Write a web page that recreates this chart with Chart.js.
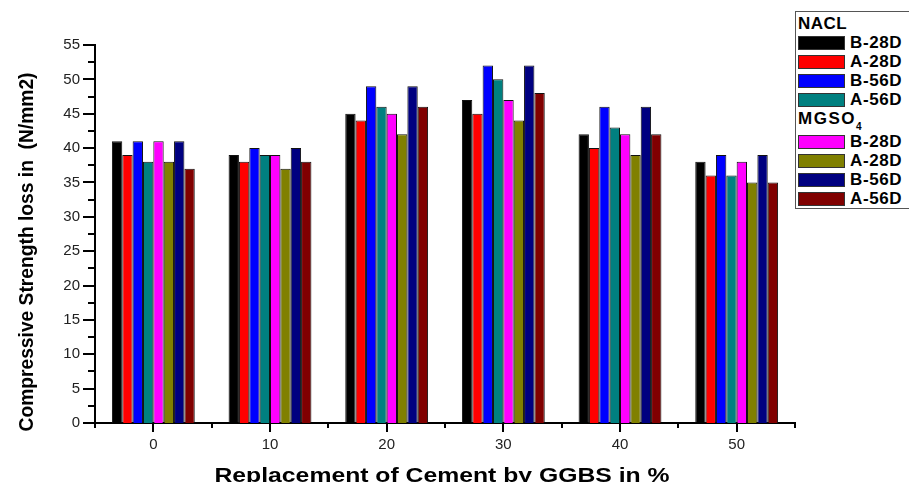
<!DOCTYPE html>
<html>
<head>
<meta charset="utf-8">
<script src="https://cdn.jsdelivr.net/npm/chart.js@4"></script>
<style>
  body { margin: 0; width: 909px; height: 482px; overflow: hidden; background: #fff; position: relative; }
  #chart { position: absolute; left: 0; top: 0; }
  #legend {
    position: absolute; left: 795px; top: 11px; width: 130px; height: 194px;
    border: 1px solid #555; background: #fff; padding-top: 2px;
    font-family: "Liberation Sans", Arial, sans-serif; font-weight: bold; font-size: 17px; color: #000;
  }
  #legend .hdr { height: 19px; line-height: 19px; padding-left: 2px; letter-spacing: 0.5px; }
  #legend .hdr.sub { height: 23px; letter-spacing: 1.5px; }
  #legend .hdr sub { font-size: 10px; vertical-align: -6px; letter-spacing: 0; }
  #legend .row { height: 19px; display: flex; align-items: center; }
  #legend .sw { width: 45px; height: 12px; border: 1px solid #333; margin-left: 2px; margin-right: 5px; }
  #legend .lbl { letter-spacing: 0.6px; }
</style>
</head>
<body>
<canvas id="chart" width="909" height="482"></canvas>
<div id="legend"></div>
<script>
const categories = ["0", "10", "20", "30", "40", "50"];

// NACL
const naclB28 = [41, 39, 45, 47, 42, 38];
const naclA28 = [39, 38, 44, 45, 40, 36];
const naclB56 = [41, 40, 49, 52, 46, 39];
const naclA56 = [38, 39, 46, 50, 43, 36];
// MGSO4
const mgB28 = [41, 39, 45, 47, 42, 38];
const mgA28 = [38, 37, 42, 44, 39, 35];
const mgB56 = [41, 40, 49, 52, 46, 39];
const mgA56 = [37, 38, 46, 48, 42, 35];

const yTicks = [0, 5, 10, 15, 20, 25, 30, 35, 40, 45, 50, 55];

const seriesNames = ["B-28D", "A-28D", "B-56D", "A-56D"];
const naclColors = ["#000000", "#ff0000", "#0000ff", "#008080"];
const mgColors = ["#ff00ff", "#808000", "#000080", "#800000"];

const naclData = [naclB28, naclA28, naclB56, naclA56];
const mgData = [mgB28, mgA28, mgB56, mgA56];

let datasets = [];
for (let i = 0; i < 4; i++) {
  datasets.push({ label: "NACL " + seriesNames[i], data: naclData[i], backgroundColor: naclColors[i] });
}
for (let i = 0; i < 4; i++) {
  datasets.push({ label: "MGSO4 " + seriesNames[i], data: mgData[i], backgroundColor: mgColors[i] });
}
datasets.forEach(function (d) {
  d.borderColor = "#111";
  d.borderWidth = 1;
  d.barPercentage = 1;
  d.categoryPercentage = 0.71;
});

// legend box (html)
let html = '<div class="hdr">NACL</div>';
for (let i = 0; i < 4; i++) {
  html += '<div class="row"><div class="sw" style="background:' + naclColors[i] + '"></div><span class="lbl">' + seriesNames[i] + "</span></div>";
}
html += '<div class="hdr sub">MGSO<sub>4</sub></div>';
for (let i = 0; i < 4; i++) {
  html += '<div class="row"><div class="sw" style="background:' + mgColors[i] + '"></div><span class="lbl">' + seriesNames[i] + "</span></div>";
}
document.getElementById("legend").innerHTML = html;

// tick marks + axis titles
const extras = {
  id: "extras",
  afterDraw(chart) {
    const ctx = chart.ctx;
    const x = chart.scales.x;
    const y = chart.scales.y;
    const area = chart.chartArea;
    ctx.save();
    ctx.strokeStyle = "#000";
    ctx.lineWidth = 2;
    ctx.beginPath();
    for (let v = 0; v <= 55; v += 2.5) {
      const py = Math.round(y.getPixelForValue(v));
      const len = v % 5 === 0 ? 12 : 7;
      ctx.moveTo(area.left, py);
      ctx.lineTo(area.left - len, py);
    }
    for (let i = 0; i < categories.length; i++) {
      const px = Math.round(x.getPixelForValue(i));
      ctx.moveTo(px, area.bottom);
      ctx.lineTo(px, area.bottom + 9);
    }
    for (let i = 0; i <= categories.length; i++) {
      const px = Math.round(x.getPixelForValue(i - 0.5));
      ctx.moveTo(px, area.bottom);
      ctx.lineTo(px, area.bottom + 5);
    }
    ctx.stroke();

    ctx.fillStyle = "#000";
    // x title
    ctx.font = "bold 20px 'Liberation Sans', Arial, sans-serif";
    let t = "Replacement of Cement by GGBS in %";
    let w = ctx.measureText(t).width;
    ctx.save();
    ctx.translate(442, 482);
    ctx.scale(455 / w, 1);
    ctx.textAlign = "center";
    ctx.textBaseline = "alphabetic";
    ctx.fillText(t, 0, 0);
    ctx.restore();

    // y title
    ctx.font = "bold 20px 'Liberation Sans', Arial, sans-serif";
    t = "Compressive Strength loss in  (N/mm2)";
    w = ctx.measureText(t).width;
    ctx.save();
    ctx.translate(27, 252);
    ctx.rotate(-Math.PI / 2);
    ctx.scale(359 / w, 1);
    ctx.textAlign = "center";
    ctx.textBaseline = "middle";
    ctx.fillText(t, 0, 0);
    ctx.restore();
    ctx.restore();
  },
};

const ctx = document.getElementById("chart");
const chart = new Chart(ctx, {
  type: "bar",
  data: { labels: categories, datasets: datasets },
  plugins: [extras],
  options: {
    responsive: false,
    animation: false,
    layout: { padding: { left: 0, top: 45, right: 114, bottom: 0 } },
    plugins: { legend: { display: false }, tooltip: { enabled: false } },
    scales: {
      x: {
        grid: { display: false, drawTicks: false, tickLength: 0 },
        border: { display: true, color: "#000", width: 2 },
        ticks: { color: "#222", padding: 13, font: { size: 15, family: "'Liberation Sans', Arial, sans-serif" } },
        afterFit: function (s) { s.height = 59; },
      },
      y: {
        min: 0,
        max: 55,
        grid: { display: false, drawTicks: false, tickLength: 0 },
        border: { display: true, color: "#000", width: 2 },
        afterBuildTicks: function (s) { s.ticks = yTicks.map(function (v) { return { value: v }; }); },
        ticks: { color: "#222", padding: 15, font: { size: 15, family: "'Liberation Sans', Arial, sans-serif" } },
        afterFit: function (s) { s.width = 95; },
      },
    },
  },
});
</script>
</body>
</html>
